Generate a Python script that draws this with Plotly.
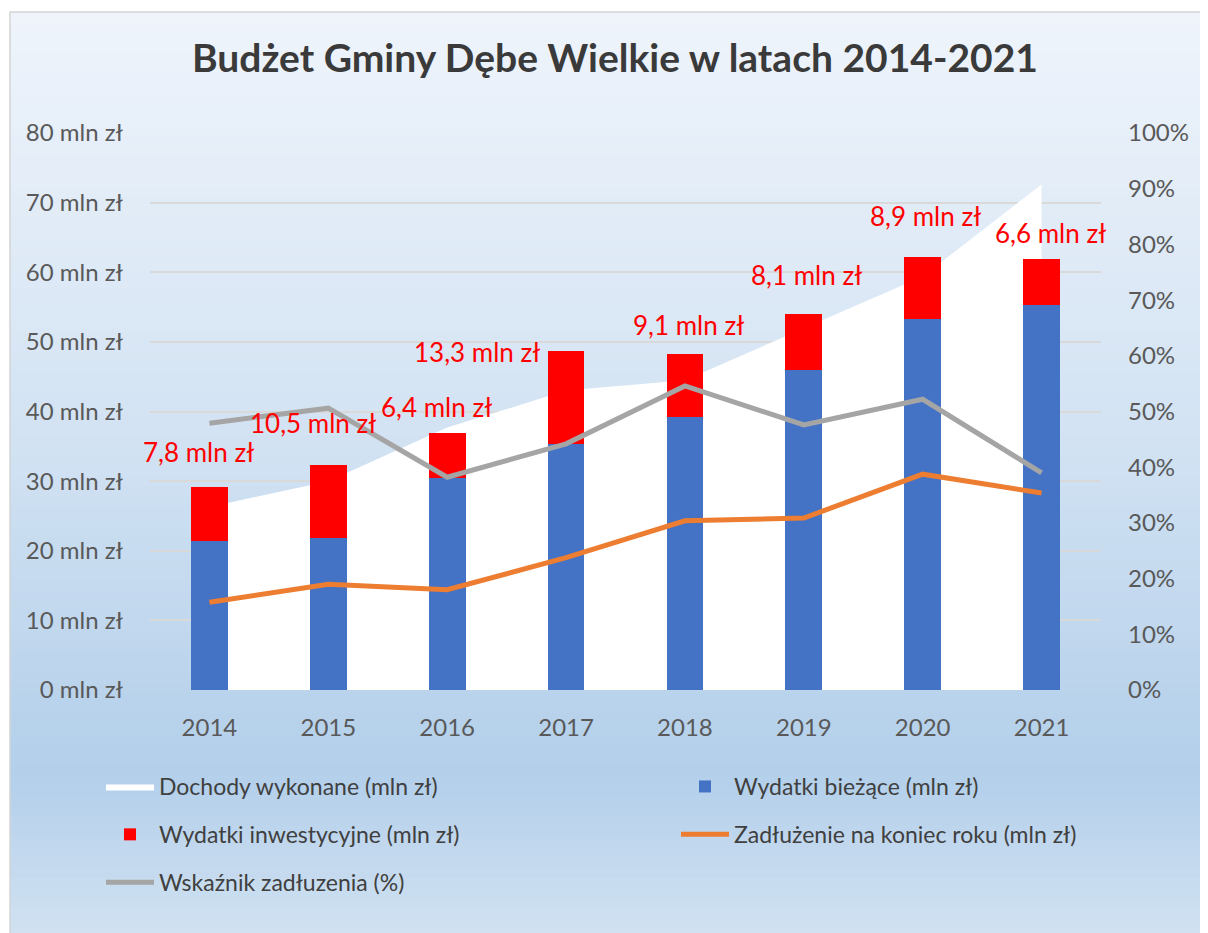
import plotly.graph_objects as go

# ---------------- data ----------------
years = ["2014", "2015", "2016", "2017", "2018", "2019", "2020", "2021"]
dochody = [26.3, 30.0, 37.7, 43.0, 44.5, 51.9, 59.4, 72.6]          # mln zł (area)
wydatki_biezace = [21.4, 21.8, 30.5, 35.4, 39.2, 45.9, 53.3, 55.3]  # mln zł
wydatki_inwest = [7.8, 10.5, 6.4, 13.3, 9.1, 8.1, 8.9, 6.6]         # mln zł
zadluzenie = [12.6, 15.2, 14.4, 19.0, 24.3, 24.7, 31.0, 28.3]       # mln zł
wskaznik = [0.479, 0.506, 0.382, 0.442, 0.546, 0.476, 0.522, 0.390] # share

# label placement offsets in pixels (manual positions in the original)
label_dx = [-11, -15, -11, -89, 4, 3, 3, 9]
label_dy = [35, 42, 26, -1, 29, 39, 41, 26]

FONT = "Lato"
OFF = 8                      # page body margin
W, H = 1208 - OFF, 933 - OFF
ML, MT = 150 - OFF, 133 - OFF
PR, PB = 1101 - OFF, 690 - OFF
MR, MB = W - PR, H - PB
PW, PH = PR - ML, PB - MT


def px_to_paper_x(px):   # px in reference (window) coords
    return (px - OFF - ML) / PW


def px_to_paper_y(py):
    return (PB - (py - OFF)) / PH


def hex_to_rgb(h):
    h = h.lstrip("#")
    return tuple(int(h[i:i + 2], 16) for i in (0, 2, 4))


def interp(stops, t):
    for (t0, c0), (t1, c1) in zip(stops, stops[1:]):
        if t0 <= t <= t1:
            f = (t - t0) / (t1 - t0) if t1 > t0 else 0
            a, b = hex_to_rgb(c0), hex_to_rgb(c1)
            r = [round(a[i] + (b[i] - a[i]) * f) for i in range(3)]
            return "rgb(%d,%d,%d)" % tuple(r)
    return stops[-1][1]


fig = go.Figure()

# area: revenues (main axis, drawn below bars)
fig.add_trace(go.Scatter(
    x=years, y=dochody, name="Dochody wykonane (mln zł)",
    mode="lines", fill="tozeroy", fillcolor="#ffffff",
    line=dict(width=0, color="#ffffff"), yaxis="y",
    legend="legend", legendgroup="a", legendrank=1, hoverinfo="skip",
))

# stacked bars
fig.add_trace(go.Bar(
    x=years, y=wydatki_biezace, name="Wydatki bieżące (mln zł)",
    marker=dict(color="#4472c4", line=dict(width=0)), width=0.31, yaxis="y2",
    legend="legend2", legendgroup="b", legendrank=1,
))
fig.add_trace(go.Bar(
    x=years, y=wydatki_inwest, name="Wydatki inwestycyjne (mln zł)",
    marker=dict(color="#ff0000", line=dict(width=0)), width=0.31, yaxis="y2",
    legend="legend", legendgroup="c", legendrank=2,
))

# debt line
fig.add_trace(go.Scatter(
    x=years, y=zadluzenie, name="Zadłużenie na koniec roku (mln zł)",
    mode="lines", line=dict(color="#ed7d31", width=5), yaxis="y2",
    legend="legend2", legendgroup="d", legendrank=2,
))

# debt ratio line
fig.add_trace(go.Scatter(
    x=years, y=wskaznik, name="Wskaźnik zadłuzenia (%)",
    mode="lines", line=dict(color="#a5a5a5", width=5), yaxis="y3",
    legend="legend", legendgroup="e", legendrank=3,
))

# data labels for investment expenses (category axis -> serial index)
annotations = []
for i, yr in enumerate(years):
    total = wydatki_biezace[i] + wydatki_inwest[i]
    txt = ("%.1f" % wydatki_inwest[i]).replace(".", ",") + " mln zł"
    annotations.append(dict(
        x=i, y=total, xref="x", yref="y", text=txt, showarrow=False,
        xanchor="center", yanchor="middle", xshift=label_dx[i], yshift=label_dy[i],
        font=dict(family=FONT, size=26, color="#ff0000"),
    ))

# background gradient (strips) + border
stops = [(0.0, "#eff4fb"), (0.45, "#d3e3f3"), (0.82, "#b3cfea"), (1.0, "#d2e2f2")]
shapes = []
top_px, bot_px, left_px, right_px = 12, 940, 10, 1215
N = 90
for k in range(N):
    y0 = top_px + (bot_px - top_px) * k / N
    y1 = top_px + (bot_px - top_px) * (k + 1) / N + 0.8
    t = (k + 0.5) / N
    shapes.append(dict(
        type="rect", xref="paper", yref="paper", layer="below",
        x0=px_to_paper_x(left_px), x1=px_to_paper_x(right_px),
        y0=px_to_paper_y(y1), y1=px_to_paper_y(y0),
        fillcolor=interp(stops, t), line=dict(width=0),
    ))
shapes.append(dict(
    type="rect", xref="paper", yref="paper", layer="below",
    x0=px_to_paper_x(left_px), x1=px_to_paper_x(right_px),
    y0=px_to_paper_y(bot_px), y1=px_to_paper_y(top_px),
    fillcolor="rgba(0,0,0,0)", line=dict(width=1.5, color="#d4d4d4"),
))

tick_font = dict(family=FONT, size=24, color="#595959")
legend_font = dict(family=FONT, size=23, color="#404040")

fig.update_layout(
    width=W, height=H, autosize=False,
    margin=dict(l=ML, r=MR, t=MT, b=MB),
    paper_bgcolor="#ffffff", plot_bgcolor="rgba(0,0,0,0)",
    barmode="stack",
    showlegend=True,
    title=dict(
        text="<b>Budżet Gminy Dębe Wielkie w latach 2014-2021</b>",
        x=(615 - OFF) / W, xanchor="center", xref="container",
        y=1 - (58 - OFF) / H, yanchor="middle", yref="container",
        font=dict(family=FONT, size=39, color="#3a3a3a"),
    ),
    xaxis=dict(
        type="category", range=[-0.5, 7.5], showgrid=False, zeroline=False,
        showline=False, ticks="", tickfont=tick_font, ticklabelstandoff=21,
    ),
    yaxis=dict(
        range=[0, 80], dtick=10, ticksuffix=" mln zł", showgrid=True,
        gridcolor="#d9d9d9", gridwidth=1.5, zeroline=False, showline=False,
        ticks="", tickfont=tick_font, ticklabelstandoff=26,
    ),
    yaxis2=dict(
        range=[0, 80], overlaying="y", visible=False, showgrid=False,
    ),
    yaxis3=dict(
        range=[0, 1], overlaying="y", side="right", dtick=0.1, tickformat=".0%",
        showgrid=False, zeroline=False, showline=False, ticks="",
        tickfont=tick_font, ticklabelstandoff=26,
    ),
    legend=dict(
        orientation="v", x=px_to_paper_x(101), xanchor="left",
        y=px_to_paper_y(765), yanchor="top", bgcolor="rgba(0,0,0,0)",
        font=legend_font, tracegroupgap=15, itemwidth=48, traceorder="grouped",
    ),
    legend2=dict(
        orientation="v", x=px_to_paper_x(676), xanchor="left",
        y=px_to_paper_y(765), yanchor="top", bgcolor="rgba(0,0,0,0)",
        font=legend_font, tracegroupgap=15, itemwidth=48, traceorder="grouped",
    ),
    annotations=annotations,
    shapes=shapes,
)

fig.write_html("out.html")
